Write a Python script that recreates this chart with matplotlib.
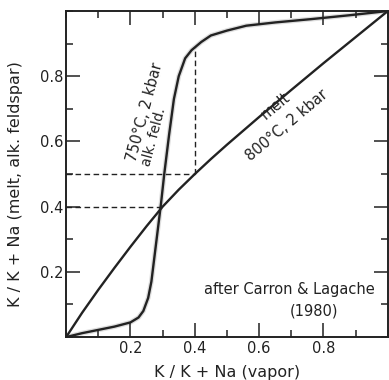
import numpy as np
import matplotlib.pyplot as plt
from matplotlib.ticker import MultipleLocator, FixedLocator

# values (after Carron & Lagache 1980)
melt_x = [0.0, 0.05, 0.10, 0.15, 0.20, 0.25, 0.30, 0.35, 0.40, 0.45, 0.50, 0.60, 0.70, 0.80, 0.90, 1.0]
melt_y = [0.0, 0.075, 0.145, 0.212, 0.277, 0.34, 0.40, 0.452, 0.50, 0.546, 0.59, 0.675, 0.758, 0.84, 0.92, 1.0]

feld_x = [0.0, 0.05, 0.10, 0.15, 0.20, 0.225, 0.24, 0.255, 0.265, 0.275, 0.285, 0.295, 0.305,
          0.32, 0.335, 0.35, 0.37, 0.39, 0.42, 0.45, 0.50, 0.56, 0.65, 0.76, 0.88, 1.0]
feld_y = [0.0, 0.012, 0.022, 0.032, 0.045, 0.06, 0.08, 0.12, 0.17, 0.25, 0.33, 0.41, 0.50,
          0.62, 0.73, 0.80, 0.855, 0.88, 0.905, 0.925, 0.94, 0.955, 0.965, 0.975, 0.987, 1.0]

# tie lines: vapor composition -> melt / feldspar composition
tie_x = [0.3, 0.4]
tie_melt = [0.4, 0.5]
tie_feld = [0.5, 0.89]

xticks = [0.2, 0.4, 0.6, 0.8]
yticks = [0.2, 0.4, 0.6, 0.8]

fig = plt.figure(figsize=(3.89, 3.80), dpi=100)
ax = fig.add_axes([0.170, 0.113, 0.827, 0.858])

# faint shading along the feldspar curve
ax.plot(feld_x, feld_y, color='0.87', lw=3.5, solid_capstyle='round', zorder=1)
ax.plot(feld_x, feld_y, color='#222222', lw=1.7, zorder=3)
ax.plot(melt_x, melt_y, color='#222222', lw=1.7, zorder=3)

# dashed tie lines
ax.plot([0, tie_x[0]], [tie_melt[0], tie_melt[0]], '--', color='#222222', lw=1.0, dashes=(4, 2.5))
ax.plot([0, tie_x[1]], [tie_melt[1], tie_melt[1]], '--', color='#222222', lw=1.0, dashes=(4, 2.5))
ax.plot([tie_x[1], tie_x[1]], [tie_melt[1], tie_feld[1]], '--', color='#222222', lw=1.0, dashes=(4, 2.5))

ax.set_xlim(0, 1)
ax.set_ylim(0, 1)
ax.xaxis.set_major_locator(FixedLocator(xticks))
ax.yaxis.set_major_locator(FixedLocator(yticks))
ax.xaxis.set_minor_locator(MultipleLocator(0.1))
ax.yaxis.set_minor_locator(MultipleLocator(0.1))
ax.tick_params(which='both', direction='in', top=True, right=True, width=1.1, colors='#222222')
ax.tick_params(which='major', length=10, labelsize=10.5, pad=3)
ax.tick_params(which='minor', length=5)
ax.tick_params(axis='y', pad=2)
for s in ax.spines.values():
    s.set_linewidth(1.4)
    s.set_color('#222222')

ax.set_xlabel('K / K + Na (vapor)', fontsize=11.5, color='#222222')
ax.xaxis.set_label_coords(0.50, -0.085)
ax.set_ylabel('K / K + Na (melt, alk. feldspar)', fontsize=11.5, color='#222222')
ax.yaxis.set_label_coords(-0.135, 0.47)

ax.text(0.245, 0.69, '750°C, 2 kbar', rotation=75, fontsize=10.5,
        ha='center', va='center', color='#222222')
ax.text(0.272, 0.615, 'alk. feld.', rotation=75, fontsize=10,
        ha='center', va='center', color='#222222')
ax.text(0.65, 0.71, 'melt', rotation=40, fontsize=10.5,
        ha='center', va='center', color='#222222')
ax.text(0.685, 0.65, '800°C, 2 kbar', rotation=40, fontsize=10.5,
        ha='center', va='center', color='#222222')
ax.text(0.695, 0.145, 'after Carron & Lagache', fontsize=10.5,
        ha='center', va='center', color='#222222')
ax.text(0.77, 0.08, '(1980)', fontsize=10.5,
        ha='center', va='center', color='#222222')

fig.savefig('out.png', dpi=100)
